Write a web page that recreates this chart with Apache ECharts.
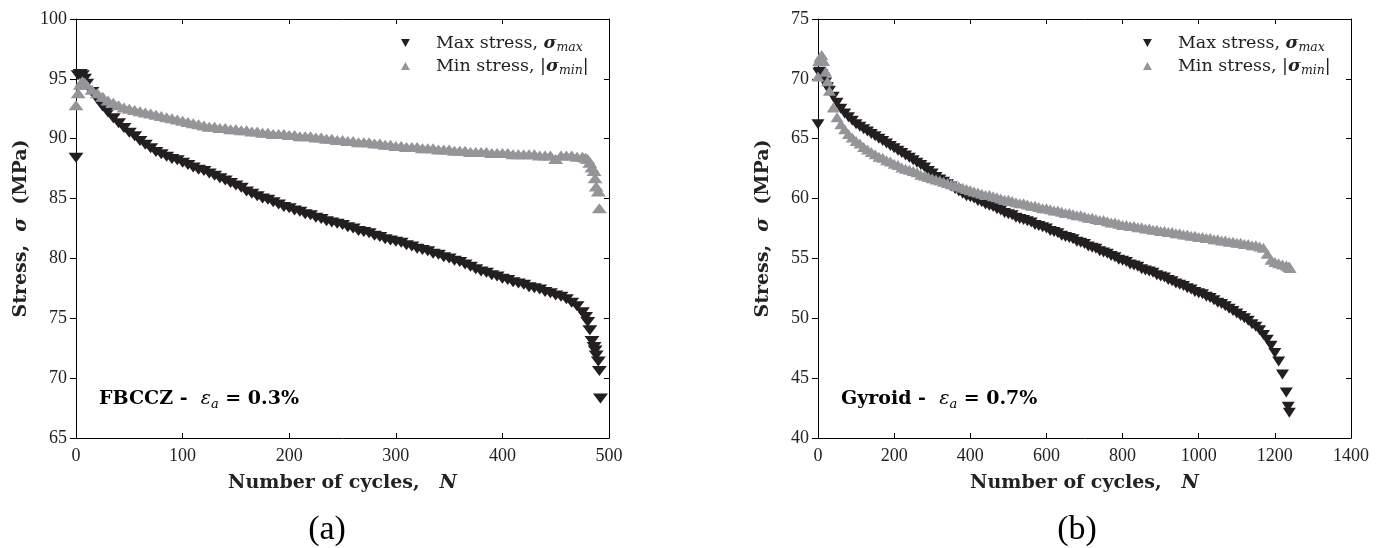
<!DOCTYPE html>
<html>
<head>
<meta charset="utf-8">
<title>Stress vs number of cycles</title>
<script src="https://cdn.jsdelivr.net/npm/echarts@6/dist/echarts.min.js"></script>
<style>
  html, body { margin: 0; padding: 0; background: #fff; }
  #chart { width: 1386px; height: 548px; }
</style>
</head>
<body>
<div id="chart"></div>
<script>
// (a) FBCCZ, strain amplitude 0.3%
var cyclesA = [
  0, 2, 4, 6, 8, 10, 15, 20, 25, 30,
  35, 40, 45, 50, 55, 60, 65, 70, 75, 80,
  85, 90, 95, 100, 105, 110, 115, 120, 125, 130,
  135, 140, 145, 150, 155, 160, 165, 170, 175, 180,
  185, 190, 195, 200, 205, 210, 215, 220, 225, 230,
  235, 240, 245, 250, 255, 260, 265, 270, 275, 280,
  285, 290, 295, 300, 305, 310, 315, 320, 325, 330,
  335, 340, 345, 350, 355, 360, 365, 370, 375, 380,
  385, 390, 395, 400, 405, 410, 415, 420, 425, 430,
  435, 440, 445, 450, 455, 460, 465, 470, 475, 478,
  480, 482, 484, 486, 487, 488, 490, 491, 492
];
var maxStressA = [
  88.4, 95.3, 95.4, 95.3, 95.0, 94.6, 93.9, 93.3, 92.7, 92.2,
  91.7, 91.3, 90.9, 90.5, 90.2, 89.8, 89.5, 89.2, 88.9, 88.7,
  88.5, 88.3, 88.2, 88.0, 87.8, 87.6, 87.4, 87.3, 87.1, 86.9,
  86.7, 86.5, 86.3, 86.1, 85.9, 85.6, 85.4, 85.2, 85.0, 84.9,
  84.7, 84.5, 84.3, 84.2, 84.0, 83.9, 83.7, 83.6, 83.4, 83.3,
  83.1, 83.0, 82.9, 82.8, 82.6, 82.5, 82.3, 82.2, 82.1, 81.9,
  81.8, 81.6, 81.5, 81.4, 81.3, 81.1, 81.0, 80.8, 80.7, 80.6,
  80.4, 80.3, 80.1, 80.0, 79.8, 79.7, 79.5, 79.3, 79.1, 78.9,
  78.8, 78.6, 78.5, 78.3, 78.2, 78.0, 77.9, 77.8, 77.6, 77.5,
  77.4, 77.2, 77.1, 76.9, 76.8, 76.6, 76.3, 76.0, 75.5, 75.1,
  74.7, 74.0, 73.1, 72.6, 72.3, 71.9, 71.4, 70.6, 68.3
];
var minStressA = [
  92.8, 93.8, 94.5, 94.8, 94.7, 94.5, 94.1, 93.8, 93.5, 93.2,
  93.0, 92.8, 92.6, 92.5, 92.4, 92.3, 92.2, 92.1, 92.0, 91.9,
  91.8, 91.7, 91.6, 91.5, 91.4, 91.3, 91.2, 91.1, 91.0, 91.0,
  90.9, 90.9, 90.8, 90.8, 90.7, 90.7, 90.6, 90.6, 90.5, 90.5,
  90.4, 90.4, 90.4, 90.3, 90.3, 90.2, 90.2, 90.2, 90.1, 90.1,
  90.0, 90.0, 89.9, 89.9, 89.8, 89.8, 89.7, 89.7, 89.7, 89.6,
  89.6, 89.5, 89.5, 89.4, 89.4, 89.3, 89.3, 89.3, 89.2, 89.2,
  89.2, 89.1, 89.1, 89.1, 89.0, 89.0, 89.0, 88.9, 88.9, 88.9,
  88.9, 88.8, 88.8, 88.8, 88.8, 88.7, 88.7, 88.7, 88.7, 88.7,
  88.6, 88.6, 88.6, 88.3, 88.6, 88.6, 88.6, 88.5, 88.5, 88.4,
  88.3, 88.0, 87.6, 87.3, 86.7, 86.0, 85.6, 84.2, null
];

// (b) Gyroid, strain amplitude 0.7%
var cyclesB = [
  0, 2, 5, 10, 15, 20, 25, 30, 40, 50,
  60, 70, 80, 90, 100, 110, 120, 130, 140, 150,
  160, 170, 180, 190, 200, 210, 220, 230, 240, 250,
  260, 270, 280, 290, 300, 310, 320, 330, 340, 350,
  360, 370, 380, 390, 400, 410, 420, 430, 440, 450,
  460, 470, 480, 490, 500, 510, 520, 530, 540, 550,
  560, 570, 580, 590, 600, 610, 620, 630, 640, 650,
  660, 670, 680, 690, 700, 710, 720, 730, 740, 750,
  760, 770, 780, 790, 800, 810, 820, 830, 840, 850,
  860, 870, 880, 890, 900, 910, 920, 930, 940, 950,
  960, 970, 980, 990, 1000, 1010, 1020, 1030, 1040, 1050,
  1060, 1070, 1080, 1090, 1100, 1110, 1120, 1130, 1140, 1150,
  1160, 1170, 1180, 1190, 1200, 1210, 1220, 1230, 1235, 1238, 1240
];
var maxStressB = [
  66.2, 70.5, 70.6, 70.4, 70.1, 69.7, 69.3, 69.0, 68.5, 68.0,
  67.5, 67.1, 66.8, 66.5, 66.2, 66.0, 65.8, 65.6, 65.4, 65.2,
  65.0, 64.8, 64.6, 64.4, 64.2, 64.0, 63.8, 63.6, 63.4, 63.2,
  63.0, 62.8, 62.6, 62.3, 62.1, 61.8, 61.6, 61.4, 61.2, 61.0,
  60.8, 60.6, 60.4, 60.2, 60.1, 60.0, 59.8, 59.7, 59.5, 59.4,
  59.3, 59.1, 59.0, 58.8, 58.7, 58.6, 58.4, 58.3, 58.2, 58.1,
  58.0, 57.8, 57.7, 57.6, 57.5, 57.3, 57.2, 57.1, 56.9, 56.8,
  56.7, 56.6, 56.4, 56.3, 56.2, 56.0, 55.9, 55.8, 55.6, 55.5,
  55.4, 55.2, 55.1, 54.9, 54.8, 54.7, 54.5, 54.4, 54.3, 54.1,
  54.0, 53.9, 53.8, 53.6, 53.5, 53.4, 53.2, 53.1, 52.9, 52.8,
  52.7, 52.5, 52.4, 52.2, 52.1, 52.0, 51.8, 51.7, 51.5, 51.3,
  51.2, 51.0, 50.8, 50.6, 50.4, 50.2, 50.0, 49.8, 49.5, 49.3,
  49.0, 48.6, 48.2, 47.7, 47.1, 46.4, 45.3, 43.8, 42.6, 42.1, null
];
var minStressB = [
  70.2, 71.5, 71.8, 72.0, 71.5, 70.6, 69.8, 69.0, 67.6, 66.8,
  66.2, 65.8, 65.4, 65.1, 64.8, 64.6, 64.3, 64.1, 63.9, 63.7,
  63.5, 63.4, 63.2, 63.1, 62.9, 62.8, 62.6, 62.5, 62.4, 62.3,
  62.2, 62.0, 61.9, 61.8, 61.7, 61.6, 61.5, 61.4, 61.3, 61.2,
  61.1, 61.0, 60.9, 60.8, 60.7, 60.6, 60.5, 60.4, 60.3, 60.3,
  60.2, 60.1, 60.0, 59.9, 59.9, 59.8, 59.7, 59.6, 59.6, 59.5,
  59.4, 59.4, 59.3, 59.2, 59.2, 59.1, 59.0, 59.0, 58.9, 58.8,
  58.8, 58.7, 58.6, 58.6, 58.5, 58.4, 58.4, 58.3, 58.2, 58.2,
  58.1, 58.0, 58.0, 57.9, 57.8, 57.8, 57.7, 57.7, 57.6, 57.6,
  57.5, 57.5, 57.4, 57.4, 57.3, 57.3, 57.2, 57.2, 57.1, 57.1,
  57.0, 57.0, 56.9, 56.9, 56.8, 56.8, 56.7, 56.7, 56.6, 56.6,
  56.5, 56.5, 56.4, 56.4, 56.3, 56.3, 56.2, 56.2, 56.1, 56.1,
  56.0, 55.9, 55.4, 54.9, 54.7, 54.6, 54.5, 54.4, 54.3, 54.3, 54.2
];

// axis ranges
var xTicksA = { min: 0, max: 500, interval: 100 };
var yTicksA = { min: 65, max: 100, interval: 5 };
var xTicksB = { min: 0, max: 1400, interval: 200 };
var yTicksB = { min: 40, max: 75, interval: 5 };

var SERIF = 'Liberation Serif';
var WIDE = 'DejaVu Serif';
var BLACK = '#231f20';
var GREY = '#939598';

function pairs(xs, ys) {
  var out = [];
  for (var i = 0; i < xs.length; i++) {
    if (ys[i] != null) out.push([xs[i], ys[i]]);
  }
  return out;
}

var nameRich = {
  r: { fontFamily: WIDE, fontWeight: 'bold', fontSize: 19, color: '#222' },
  i: { fontFamily: WIDE, fontWeight: 'bold', fontStyle: 'italic', fontSize: 19, color: '#222' }
};
var lineStyle = { color: '#000', width: 1 };
var tickLabel = {
  color: '#222', fontFamily: SERIF, fontSize: 18,
  formatter: function (v) { return String(v); }
};

function xAxes(grid, t) {
  return [{
    gridIndex: grid, type: 'value', min: t.min, max: t.max, interval: t.interval,
    position: 'bottom',
    axisLine: { onZero: false, lineStyle: lineStyle },
    axisTick: { inside: true, length: 5, lineStyle: lineStyle },
    axisLabel: Object.assign({ margin: 9 }, tickLabel),
    splitLine: { show: false },
    name: '{r|Number of cycles,   }{i|N}',
    nameLocation: 'middle', nameGap: 36,
    nameTextStyle: { rich: nameRich }
  }, {
    gridIndex: grid, type: 'value', min: t.min, max: t.max, interval: t.interval,
    position: 'top',
    axisLine: { onZero: false, lineStyle: lineStyle },
    axisTick: { inside: true, length: 5, lineStyle: lineStyle },
    axisLabel: { show: false },
    splitLine: { show: false }
  }];
}

function yAxes(grid, t) {
  return [{
    gridIndex: grid, type: 'value', min: t.min, max: t.max, interval: t.interval,
    position: 'left',
    axisLine: { onZero: false, lineStyle: lineStyle },
    axisTick: { inside: false, length: 6, lineStyle: lineStyle },
    axisLabel: Object.assign({ margin: 9 }, tickLabel),
    splitLine: { show: false },
    name: '{r|Stress,  }{i|σ}{r|  (MPa)}',
    nameLocation: 'middle', nameGap: 45,
    nameTextStyle: { rich: nameRich }
  }, {
    gridIndex: grid, type: 'value', min: t.min, max: t.max, interval: t.interval,
    position: 'right',
    axisLine: { onZero: false, lineStyle: lineStyle },
    axisTick: { inside: true, length: 5, lineStyle: lineStyle },
    axisLabel: { show: false },
    splitLine: { show: false }
  }];
}

function scatter(name, xi, yi, data, color, rotate, size) {
  return {
    name: name, type: 'scatter',
    xAxisIndex: xi, yAxisIndex: yi,
    data: data,
    symbol: 'triangle', symbolRotate: rotate, symbolSize: size,
    itemStyle: { color: color, opacity: 1 },
    silent: true
  };
}

var legendLabels = {
  maxA: '{t|Max stress, }{g|σ}{s|max}',
  minA: '{t|Min stress, |}{g|σ}{s|min}{t||}',
  maxB: '{t|Max stress, }{g|σ}{s|max}',
  minB: '{t|Min stress, |}{g|σ}{s|min}{t||}'
};
var legendRich = {
  t: { fontFamily: WIDE, fontSize: 17.5, color: '#222' },
  g: { fontFamily: WIDE, fontSize: 17.5, fontWeight: 'bold', fontStyle: 'italic', color: '#222' },
  s: { fontFamily: WIDE, fontSize: 12.5, fontStyle: 'italic', color: '#222', padding: [9, 0, 0, 0] }
};
var downIcon = 'path://M0,0L10,0L5,9Z';
var upIcon = 'path://M5,0L10,9L0,9Z';

function legend(names, left) {
  return {
    data: [
      { name: names[0], icon: downIcon, itemStyle: { color: BLACK, opacity: 1 } },
      { name: names[1], icon: upIcon, itemStyle: { color: GREY, opacity: 1 } }
    ],
    left: left, top: 34, orient: 'vertical',
    padding: 0, itemGap: 3, itemWidth: 9, itemHeight: 8,
    selectedMode: false,
    formatter: function (n) { return legendLabels[n]; },
    textStyle: { padding: [0, 0, 0, 21], rich: legendRich }
  };
}

var noteRich = {
  b: { fontFamily: WIDE, fontSize: 19, fontWeight: 'bold', color: '#222' },
  e: { fontFamily: WIDE, fontSize: 19, fontStyle: 'italic', color: '#222' },
  s: { fontFamily: WIDE, fontSize: 13, fontStyle: 'italic', color: '#222', padding: [10, 0, 0, 0] }
};

var myChart = echarts.init(document.getElementById('chart'));

var option = {
  animation: false,
  backgroundColor: '#fff',
  grid: [
    { left: 76, top: 19, width: 533, height: 419 },
    { left: 818, top: 19, width: 533, height: 419 }
  ],
  xAxis: xAxes(0, xTicksA).concat(xAxes(1, xTicksB)),
  yAxis: yAxes(0, yTicksA).concat(yAxes(1, yTicksB)),
  legend: [legend(['maxA', 'minA'], 401), legend(['maxB', 'minB'], 1143)],
  series: [
    scatter('maxA', 0, 0, pairs(cyclesA, maxStressA), BLACK, 180, [15, 10]),
    scatter('minA', 0, 0, pairs(cyclesA, minStressA), GREY, 0, [15, 10]),
    scatter('maxB', 2, 2, pairs(cyclesB, maxStressB), BLACK, 180, [13, 10]),
    scatter('minB', 2, 2, pairs(cyclesB, minStressB), GREY, 0, [13, 10])
  ],
  graphic: [
    { type: 'text', left: 99, top: 390,
      style: { text: '{b|FBCCZ -  }{e|ε}{s|a}{b| = 0.3%}', rich: noteRich } },
    { type: 'text', left: 841, top: 390,
      style: { text: '{b|Gyroid -  }{e|ε}{s|a}{b| = 0.7%}', rich: noteRich } },
    { type: 'text', x: 327, y: 530,
      style: { text: '(a)', font: '34px "Liberation Serif"', fill: '#000', align: 'center', verticalAlign: 'middle' } },
    { type: 'text', x: 1077, y: 530,
      style: { text: '(b)', font: '34px "Liberation Serif"', fill: '#000', align: 'center', verticalAlign: 'middle' } }
  ]
};

if (option && typeof option === 'object') {
  myChart.setOption(option);
}
</script>
</body>
</html>
